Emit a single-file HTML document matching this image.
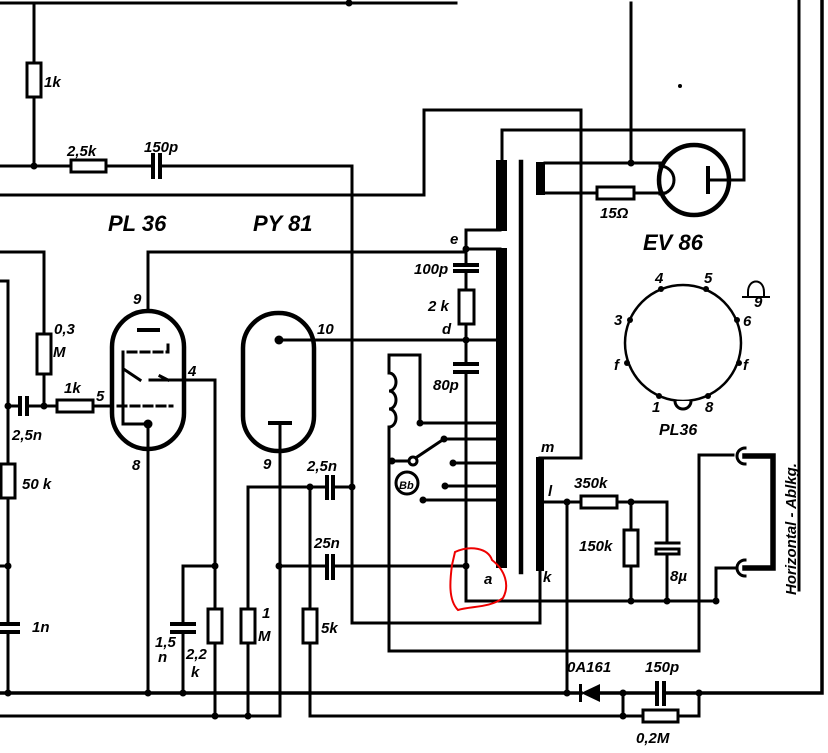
<!DOCTYPE html>
<html><head><meta charset="utf-8"><style>
html,body{margin:0;padding:0;background:#fff}
svg{display:block}
text{font-family:"Liberation Sans",sans-serif;font-style:italic;font-weight:bold;fill:#000}
</style></head><body>
<svg width="828" height="753" viewBox="0 0 828 753" xmlns="http://www.w3.org/2000/svg">
<g stroke="#000" stroke-width="3" fill="none" stroke-linecap="square">
<path d="M0 3H456"/>
<path d="M34 3V63M34 97V166"/>
<rect x="27" y="63" width="14" height="34" fill="#fff"/>
<path d="M0 166H71M106 166H153M163 166H352V623H540V570"/>
<rect x="71" y="160" width="35" height="12" fill="#fff"/>
<path d="M153 155V177M160 155V177" stroke-width="4"/>
<path d="M0 195H424V110H581V458H540"/>
<path d="M148 311V252H466"/>
<path d="M0 252H44V334M44 374V406"/>
<rect x="37" y="334" width="14" height="40" fill="#fff"/>
<path d="M0 281H8V464M8 498V624M8 632V693"/>
<rect x="1" y="464" width="14" height="34" fill="#fff"/>
<path d="M0 566H8"/>
<path d="M-1 624H18M-1 632H18" stroke-width="4"/>
<path d="M8 406H19M28 406H57M93 406H112"/>
<path d="M20 398V414M27 398V414" stroke-width="4"/>
<rect x="57" y="400" width="36" height="12" fill="#fff"/>
<rect x="112" y="311" width="72" height="138" rx="36" ry="36" stroke-width="4.5"/>
<path d="M139 330H158" stroke-width="4"/>
<path d="M128 352H168V345" stroke-dasharray="8,5"/>
<path d="M123 352V424H148"/>
<path d="M125 370L140 380M150 380H160M168 380L160 376M160 380H215V609M215 643V716"/>
<path d="M118 406H172" stroke-dasharray="8,5"/>
<path d="M148 424V693"/>
<path d="M215 566H183V624M183 632V693"/>
<path d="M172 624H194M172 632H194" stroke-width="4"/>
<rect x="208" y="609" width="14" height="34" fill="#fff"/>
<rect x="243" y="313" width="71" height="138" rx="35" ry="35" stroke-width="4.5"/>
<path d="M279 340H497"/>
<path d="M270 423H290" stroke-width="4"/>
<path d="M280 423V716H0"/>
<path d="M279 566H326M333 566H466"/>
<path d="M327 556V578M333 556V578" stroke-width="4"/>
<path d="M248 716V643M248 609V487H326M333 487H352"/>
<path d="M327 477V498M333 477V498" stroke-width="4"/>
<rect x="241" y="609" width="14" height="34" fill="#fff"/>
<path d="M310 487V609M310 643V716H623"/>
<rect x="303" y="609" width="14" height="34" fill="#fff"/>
<path d="M0 693H581M600 693H657M664 693H822V0" stroke-width="3.5"/>
<path d="M799 0V590"/>
<path d="M657 683V704M664 683V704" stroke-width="4"/>
<path d="M623 693V716H643M678 716H699V693"/>
<rect x="643" y="710" width="35" height="12" fill="#fff"/>
<path d="M521 162V572" stroke-width="4.5"/>
<path d="M502 160V130H744V180H708"/>
<path d="M466 249V230H500"/>
<path d="M466 249H500M466 249V264M466 272V290M466 324V363M466 373V601H716"/>
<path d="M455 265H477M455 271H477M455 364H477M455 372H477" stroke-width="4"/>
<rect x="459" y="290" width="15" height="34" fill="#fff"/>
<path d="M420 423V355H389V373"/>
<path d="M389 373a7 9 0 0 1 0 18a7 9 0 0 1 0 18a7 9 0 0 1 0 18"/>
<path d="M389 427V651H699V455H733"/>
<path d="M392 461H408M417 457L444 439"/>
<circle cx="413" cy="461" r="4" fill="#fff"/>
<circle cx="407" cy="483" r="11" fill="#fff"/>
<path d="M420 423H500M444 439H500M453 463H500M445 486H500M423 500H500"/>
<path d="M543 502H581M617 502H667V543M667 554V601M631 502V530M631 566V601"/>
<rect x="581" y="496" width="36" height="12" fill="#fff"/>
<rect x="624" y="530" width="14" height="36" fill="#fff"/>
<path d="M656 543H679"/>
<rect x="656" y="549" width="23" height="5" fill="#fff"/>
<path d="M567 502V693"/>
<path d="M716 601V568H735"/>
<path d="M745 448a8 8 0 0 0 -8 8a8 8 0 0 0 8 8M745 560a8 8 0 0 0 -8 8a8 8 0 0 0 8 8"/>
<path d="M745 456H773V568H745" stroke-width="5.5"/>
<circle cx="694" cy="180" r="35" stroke-width="4.5"/>
<path d="M660 166a14 14 0 0 1 0 28" stroke-width="3"/>
<path d="M708 168V192" stroke-width="4"/>
<path d="M631 3V163"/>
<path d="M545 163H660M545 193H597M634 193H665"/>
<rect x="597" y="187" width="37" height="12" fill="#fff"/>
<circle cx="683" cy="343" r="58" stroke-width="2.5"/>
<path d="M675 401a8 8 0 0 0 16 0" fill="#fff"/>
<path d="M748 292c0-14 16-14 16 0v5h6H742h6z" stroke-width="2"/>
</g>
<g fill="#000">
<rect x="496" y="160" width="11" height="71"/>
<rect x="496" y="248" width="11" height="320"/>
<rect x="536" y="162" width="9" height="33"/>
<rect x="536" y="457" width="8" height="114"/>
<path d="M581 693L600 684V702Z"/><rect x="579" y="684" width="3" height="18"/>
<circle cx="349" cy="3" r="3.5"/><circle cx="34" cy="166" r="3.5"/>
<circle cx="44" cy="406" r="3.5"/><circle cx="8" cy="406" r="3.5"/>
<circle cx="148" cy="424" r="4.5"/><circle cx="279" cy="340" r="4.5"/>
<circle cx="8" cy="566" r="3.5"/><circle cx="8" cy="693" r="3.5"/>
<circle cx="148" cy="693" r="3.5"/><circle cx="183" cy="693" r="3.5"/>
<circle cx="215" cy="566" r="3.5"/><circle cx="215" cy="716" r="3.5"/>
<circle cx="248" cy="716" r="3.5"/><circle cx="279" cy="566" r="3.5"/>
<circle cx="310" cy="487" r="3.5"/><circle cx="352" cy="487" r="3.5"/>
<circle cx="466" cy="249" r="3.5"/><circle cx="466" cy="340" r="3.5"/>
<circle cx="466" cy="566" r="3.5"/><circle cx="392" cy="461" r="3.5"/>
<circle cx="420" cy="423" r="3.5"/><circle cx="444" cy="439" r="3.5"/>
<circle cx="453" cy="463" r="3.5"/><circle cx="445" cy="486" r="3.5"/>
<circle cx="423" cy="500" r="3.5"/><circle cx="567" cy="502" r="3.5"/>
<circle cx="631" cy="502" r="3.5"/><circle cx="631" cy="601" r="3.5"/>
<circle cx="667" cy="601" r="3.5"/><circle cx="716" cy="601" r="3.5"/>
<circle cx="567" cy="693" r="3.5"/><circle cx="623" cy="693" r="3.5"/>
<circle cx="699" cy="693" r="3.5"/><circle cx="623" cy="716" r="3.5"/>
<circle cx="631" cy="163" r="3.5"/><circle cx="680" cy="86" r="2"/>
<circle cx="661" cy="289" r="3"/><circle cx="706" cy="289" r="3"/>
<circle cx="630" cy="320" r="3"/><circle cx="737" cy="320" r="3"/>
<circle cx="627" cy="363" r="3"/><circle cx="739" cy="363" r="3"/>
<circle cx="659" cy="396" r="3"/><circle cx="708" cy="396" r="3"/>
</g>
<path d="M455 552C470 545 488 548 492 560C505 570 510 585 503 598C490 608 470 606 458 610C448 600 450 580 452 565Z" fill="none" stroke="#e00" stroke-width="2"/>
<g font-size="15">
<text x="44" y="87">1k</text>
<text x="67" y="156">2,5k</text>
<text x="144" y="152">150p</text>
<text x="54" y="334">0,3</text><text x="53" y="357">M</text>
<text x="64" y="393">1k</text><text x="96" y="401">5</text>
<text x="188" y="376">4</text><text x="133" y="304">9</text>
<text x="132" y="470">8</text><text x="263" y="469">9</text>
<text x="317" y="334">10</text>
<text x="12" y="440">2,5n</text><text x="22" y="489">50 k</text>
<text x="32" y="632">1n</text>
<text x="155" y="647">1,5</text><text x="158" y="662">n</text>
<text x="186" y="659">2,2</text><text x="191" y="677">k</text>
<text x="262" y="618">1</text><text x="258" y="641">M</text>
<text x="321" y="633">5k</text>
<text x="307" y="471">2,5n</text><text x="314" y="548">25n</text>
<text x="450" y="244">e</text><text x="414" y="274">100p</text>
<text x="428" y="311">2 k</text><text x="442" y="334">d</text>
<text x="433" y="390">80p</text>
<text x="399" y="489" font-size="11">Bb</text>
<text x="541" y="452">m</text><text x="548" y="496">l</text>
<text x="543" y="582">k</text><text x="484" y="584">a</text>
<text x="574" y="488">350k</text><text x="579" y="551">150k</text>
<text x="670" y="581">8µ</text>
<text x="567" y="672">0A161</text><text x="645" y="672">150p</text>
<text x="636" y="743">0,2M</text>
<text x="600" y="218">15Ω</text>
<text x="655" y="283">4</text><text x="704" y="283">5</text>
<text x="614" y="325">3</text><text x="743" y="326">6</text>
<text x="614" y="370">f</text><text x="743" y="370">f</text>
<text x="652" y="412">1</text><text x="705" y="412">8</text>
<text x="754" y="307">9</text>
<text x="659" y="435" font-size="16">PL36</text>
</g>
<g font-size="22">
<text x="108" y="231">PL 36</text>
<text x="253" y="231">PY 81</text>
<text x="643" y="250">EV 86</text>
</g>
<text x="0" y="0" font-size="15" transform="translate(796,595) rotate(-90)">Horizontal - Ablkg.</text>
</svg>
</body></html>
